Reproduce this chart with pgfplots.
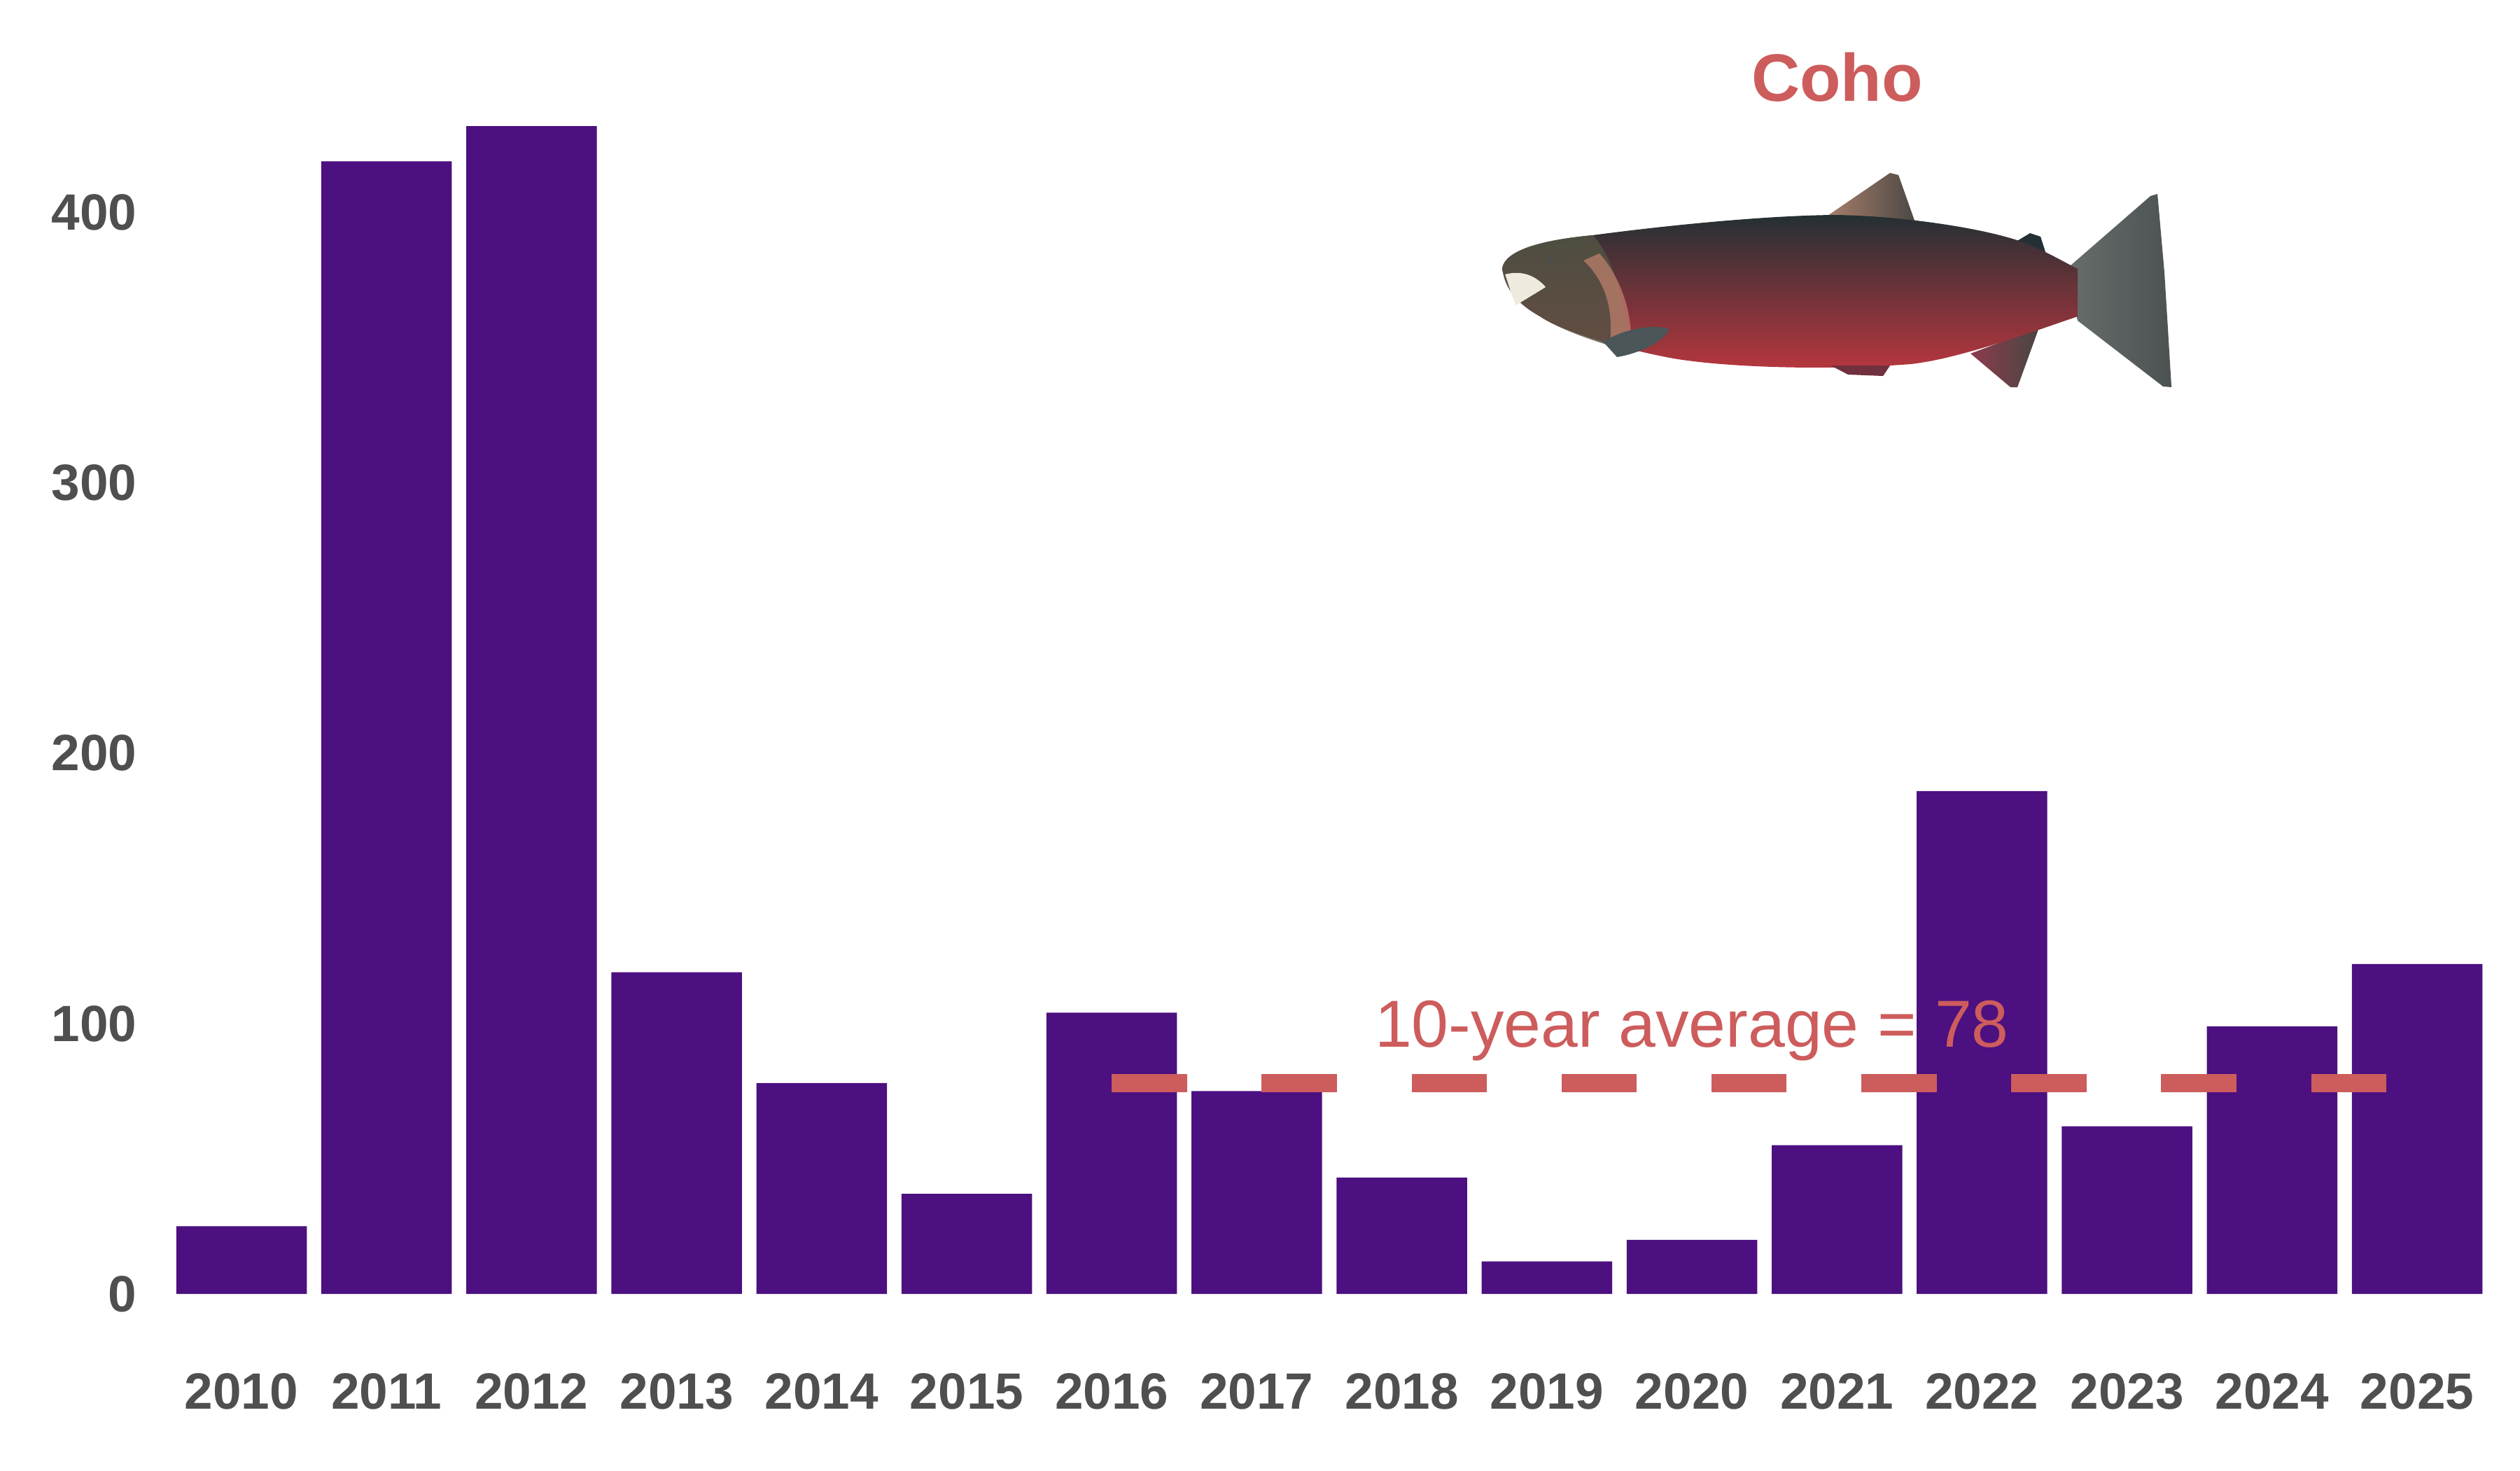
\documentclass[border=0pt]{standalone}
\usepackage{pgfplots}
\pgfplotsset{compat=1.18}
\usepackage{fontspec}
\setmainfont{Liberation Sans}
\definecolor{barcol}{RGB}{76,16,128}
\definecolor{avgred}{RGB}{205,92,92}
\definecolor{tickgray}{RGB}{79,79,79}
\definecolor{fishtop}{RGB}{36,48,52}
\definecolor{fishmid}{RGB}{140,84,78}
\definecolor{fishbelly}{RGB}{184,54,62}
\definecolor{finbrown}{RGB}{170,128,108}
\definecolor{findark}{RGB}{72,70,66}
\definecolor{tailgray}{RGB}{76,82,82}
\definecolor{taillight}{RGB}{104,110,108}
\definecolor{analred}{RGB}{140,60,76}
\definecolor{headcol}{RGB}{84,84,68}
\definecolor{cheek}{RGB}{196,130,112}
\definecolor{mouthcol}{RGB}{238,234,222}
\definecolor{pect}{RGB}{74,86,88}

\begin{document}
\begin{tikzpicture}
\path[use as bounding box] (0,0) rectangle (864pt,504pt);
\begin{axis}[
  at={(57.94pt,60.48pt)}, anchor=south west,
  scale only axis, width=795.65pt, height=426.25pt,
  xmin=2009.5, xmax=2025.5, ymin=0, ymax=460,
  axis line style={draw=none},
  major tick length=0pt,
  xtick={2010,2011,2012,2013,2014,2015,2016,2017,2018,2019,2020,2021,2022,2023,2024,2025},
  xticklabels={2010,2011,2012,2013,2014,2015,2016,2017,2018,2019,2020,2021,2022,2023,2024,2025},
  ytick={0,100,200,300,400},
  yticklabels={0,100,200,300,400},
  ticklabel style={font=\fontsize{17.5}{20}\selectfont\bfseries, text=tickgray, inner sep=0pt},
  xticklabel style={anchor=base, yshift=-39.36pt},
  yticklabel style={anchor=east, xshift=-10.9pt},
  clip=false,
]
\addplot[ybar, bar width=44.76pt, bar shift=0pt, fill=barcol, draw=none] coordinates {
  (2010,25) (2011,419) (2012,432) (2013,119) (2014,78) (2015,37)
  (2016,104) (2017,75) (2018,43) (2019,12) (2020,20) (2021,55)
  (2022,186) (2023,62) (2024,99) (2025,122)
};
\addplot[avgred, line width=6.4pt, dash pattern=on 25.8pt off 25.6pt, line cap=butt] coordinates {(2016,78) (2025,78)};
\node[anchor=base, text=avgred, font=\fontsize{22.8}{26}\selectfont, inner sep=0pt] at (axis cs:2020,91.4) {10-year average = 78};
\end{axis}

\begin{scope}[shift={(0pt,504pt)}, x=0.24pt, y=-0.24pt]
  % tail
  \shade[left color=taillight, right color=tailgray] (2950,386) -- (3072,280) -- (3082,277) -- (3092,390) -- (3102,553) -- (3090,552) -- (2968,458) -- cycle;
  % dorsal fin
  \shade[left color=finbrown, right color=findark] (2605,312) -- (2700,247) -- (2712,250) -- (2742,335) -- cycle;
  % anal fin
  \shade[left color=analred, right color=findark] (2815,505) -- (2872,553) -- (2882,553) -- (2915,462) -- (2860,488) -- cycle;
  % adipose fin
  \fill[fishtop] (2880,345) -- (2900,333) -- (2915,338) -- (2922,360) -- cycle;
  % body
  \shade[top color=fishtop, middle color=fishmid, bottom color=fishbelly]
    (2146,383) .. controls (2150,358) and (2200,343) .. (2275,336)
    .. controls (2380,322) and (2520,308) .. (2620,307)
    .. controls (2720,308) and (2850,328) .. (2900,350)
    .. controls (2930,363) and (2950,375) .. (2968,384)
    -- (2968,452)
    .. controls (2900,475) and (2800,512) .. (2730,520)
    .. controls (2600,530) and (2450,524) .. (2380,510)
    .. controls (2300,494) and (2230,472) .. (2200,452)
    .. controls (2170,435) and (2150,415) .. (2146,383) -- cycle;
  % pelvic fin
  \fill[analred!80!black] (2615,522) -- (2640,535) -- (2690,537) -- (2700,522) -- cycle;
  % head
  \fill[headcol, opacity=0.8] (2146,383) .. controls (2150,358) and (2200,343) .. (2275,336)
    .. controls (2300,360) and (2320,420) .. (2330,502)
    .. controls (2290,492) and (2230,472) .. (2200,452)
    .. controls (2170,435) and (2150,415) .. (2146,383) -- cycle;
  \fill[cheek, opacity=0.7] (2285,362) .. controls (2318,400) and (2332,450) .. (2330,495)
    -- (2300,488) .. controls (2305,440) and (2292,400) .. (2262,372) -- cycle;
  % mouth
  \fill[mouthcol] (2150,392) .. controls (2175,385) and (2195,395) .. (2208,410)
    .. controls (2192,420) and (2178,428) .. (2166,436)
    .. controls (2158,420) and (2155,405) .. (2150,392) -- cycle;
  % pectoral fin
  \fill[pect] (2290,488) .. controls (2320,470) and (2360,462) .. (2385,470)
    .. controls (2375,490) and (2340,505) .. (2310,510) -- cycle;
  % eye
  \fill[black!70] (2215,372) circle (5);
  % title
  \node[anchor=base, text=avgred, font=\fontsize{23}{26}\selectfont\bfseries, inner sep=0pt] at (2624.5,145) {Coho};
\end{scope}
\end{tikzpicture}
\end{document}
